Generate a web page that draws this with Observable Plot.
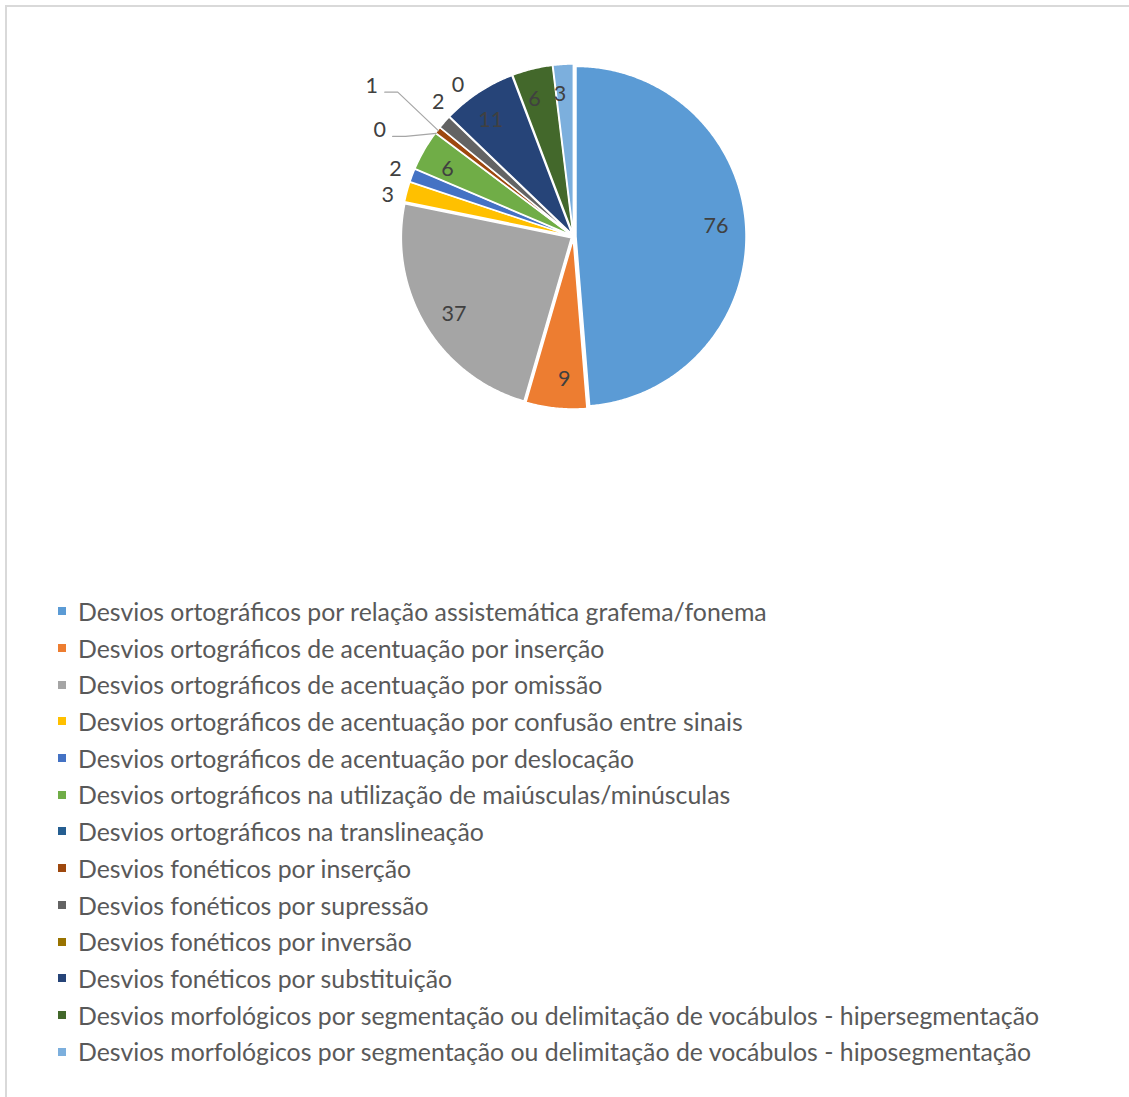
<!DOCTYPE html>
<html>
<head>
<meta charset="utf-8">
<script src="https://cdn.jsdelivr.net/npm/d3@7"></script>
<script src="https://cdn.jsdelivr.net/npm/@observablehq/plot@0.6"></script>
<style>
  html, body { margin: 0; padding: 0; background: #fff; overflow: hidden; }
  #wrap { position: relative; width: 1129px; height: 1097px; overflow: hidden; }
  #frame { position: absolute; left: 5px; top: 5px; width: 1300px; height: 1300px; border: 2px solid #d9d9d9; box-sizing: border-box; pointer-events: none; }
  #chart { position: relative; }
  #legend { position: relative; padding-left: 58px; color: #595959; }
  .li { height: 36.7px; line-height: 36.7px; white-space: nowrap; display: flex; align-items: center; }
  .sw { width: 8px; height: 8px; margin-right: 12px; flex: none; }
</style>
</head>
<body>
<div id="wrap">
  <div id="frame"></div>
  <div id="chart"></div>
  <div id="legend"></div>
</div>
<script>
const categories = [
  "Desvios ortográficos por relação assistemática grafema/fonema",
  "Desvios ortográficos de acentuação por inserção",
  "Desvios ortográficos de acentuação por omissão",
  "Desvios ortográficos de acentuação por confusão entre sinais",
  "Desvios ortográficos de acentuação por deslocação",
  "Desvios ortográficos na utilização de maiúsculas/minúsculas",
  "Desvios ortográficos na translineação",
  "Desvios fonéticos por inserção",
  "Desvios fonéticos por supressão",
  "Desvios fonéticos por inversão",
  "Desvios fonéticos por substituição",
  "Desvios morfológicos por segmentação ou delimitação de vocábulos - hipersegmentação",
  "Desvios morfológicos por segmentação ou delimitação de vocábulos - hiposegmentação"
];
const values = [76, 9, 37, 3, 2, 6, 0, 1, 2, 0, 11, 6, 3];
const colors = ["#5B9BD5", "#ED7D31", "#A5A5A5", "#FFC000", "#4472C4", "#70AD47",
                "#255E91", "#9E480E", "#636363", "#997300", "#264478", "#43682B", "#7CAFDD"];
const labelPlacement = ["in", "in", "in", "out", "out", "in", "lead", "lead", "out", "out", "in", "in", "in"];

// layout
const W = 1129, H = 593, CX = 573, CY = 236, R = 170;
const FONT = "Lato, 'Liberation Sans', sans-serif";
const total = d3.sum(values);
const cum = [0, ...d3.cumsum(values)];
const rad = d => d * Math.PI / 180;
const slices = categories.map((c, i) => {
  const a0 = cum[i] / total * 360, a1 = cum[i + 1] / total * 360;
  return {c, i, v: values[i], a0, a1, m: (a0 + a1) / 2};
});

// slice polygons (slightly exploded)
const ex = 2.5 / R;
const polyPts = [];
for (const s of slices) {
  if (s.v <= 0) continue;
  const ox = Math.sin(rad(s.m)) * ex, oy = Math.cos(rad(s.m)) * ex;
  polyPts.push({cat: s.c, x: ox, y: oy});
  const n = Math.max(2, Math.ceil((s.a1 - s.a0) / 0.5));
  for (let k = 0; k <= n; k++) {
    const a = rad(s.a0 + (s.a1 - s.a0) * k / n);
    polyPts.push({cat: s.c, x: ox + Math.sin(a), y: oy + Math.cos(a)});
  }
}

// labels
const labels = [];
const outs = slices.filter(s => labelPlacement[s.i] !== "in").map(s => ({s, ang: s.m}));
outs.sort((a, b) => a.ang - b.ang);
const minSep = 8;
for (let it = 0; it < 500; it++) {
  for (let k = 0; k < outs.length - 1; k++) {
    const d = outs[k + 1].ang - outs[k].ang;
    if (d < minSep) {
      const p = (minSep - d) / 2;
      outs[k].ang -= p; outs[k + 1].ang += p;
    }
  }
}
const leaders = [];
let leadIdx = 0;
for (const s of slices) {
  if (labelPlacement[s.i] === "in") {
    const r = 0.84;
    labels.push({t: String(s.v), x: Math.sin(rad(s.m - 2)) * r, y: Math.cos(rad(s.m - 2)) * r});
  }
}
for (const o of outs) {
  const s = o.s;
  if (labelPlacement[s.i] === "out") {
    const r = 1.12;
    labels.push({t: String(s.v), x: Math.sin(rad(o.ang)) * r, y: Math.cos(rad(o.ang)) * r});
  } else {
    const r = 1.3 + 0.18 * leadIdx++;
    const lx = Math.sin(rad(o.ang)) * r, ly = Math.cos(rad(o.ang)) * r;
    labels.push({t: String(s.v), x: lx, y: ly});
    const sx = lx + 13 / R, sy = ly - 6 / R;
    leaders.push({i: s.i, x: sx, y: sy});
    leaders.push({i: s.i, x: sx + 13 / R, y: sy});
    leaders.push({i: s.i, x: Math.sin(rad(s.m)) * 1.01, y: Math.cos(rad(s.m)) * 1.01});
  }
}

const plot = Plot.plot({
  width: W, height: H,
  margin: 0,
  x: {axis: null, domain: [-CX / R, (W - CX) / R]},
  y: {axis: null, domain: [(CY - H) / R, CY / R]},
  color: {domain: categories, range: colors},
  style: {fontFamily: FONT, background: "transparent"},
  marks: [
    Plot.line(polyPts, {x: "x", y: "y", z: "cat", fill: "cat", stroke: "white", strokeWidth: 1.5, curve: "linear-closed"}),
    Plot.line(leaders, {x: "x", y: "y", z: "i", stroke: "#a6a6a6", strokeWidth: 1.2}),
    Plot.text(labels, {x: "x", y: "y", text: "t", fill: "#404040", fontSize: 21.5, fontFamily: FONT})
  ]
});
document.getElementById("chart").appendChild(plot);

// legend, font size fitted so that the first entry spans ~689px
const leg = document.getElementById("legend");
leg.style.fontFamily = FONT;
leg.style.fontSize = "21px";
const spans = [];
categories.forEach((c, i) => {
  const row = document.createElement("div");
  row.className = "li";
  const sw = document.createElement("span");
  sw.className = "sw";
  sw.style.background = colors[i];
  const tx = document.createElement("span");
  tx.textContent = c;
  row.appendChild(sw); row.appendChild(tx);
  leg.appendChild(row);
  spans.push(tx);
});
const w0 = spans[0].getBoundingClientRect().width;
if (w0 > 0) leg.style.fontSize = (21 * 689 / w0) + "px";
</script>
</body>
</html>
